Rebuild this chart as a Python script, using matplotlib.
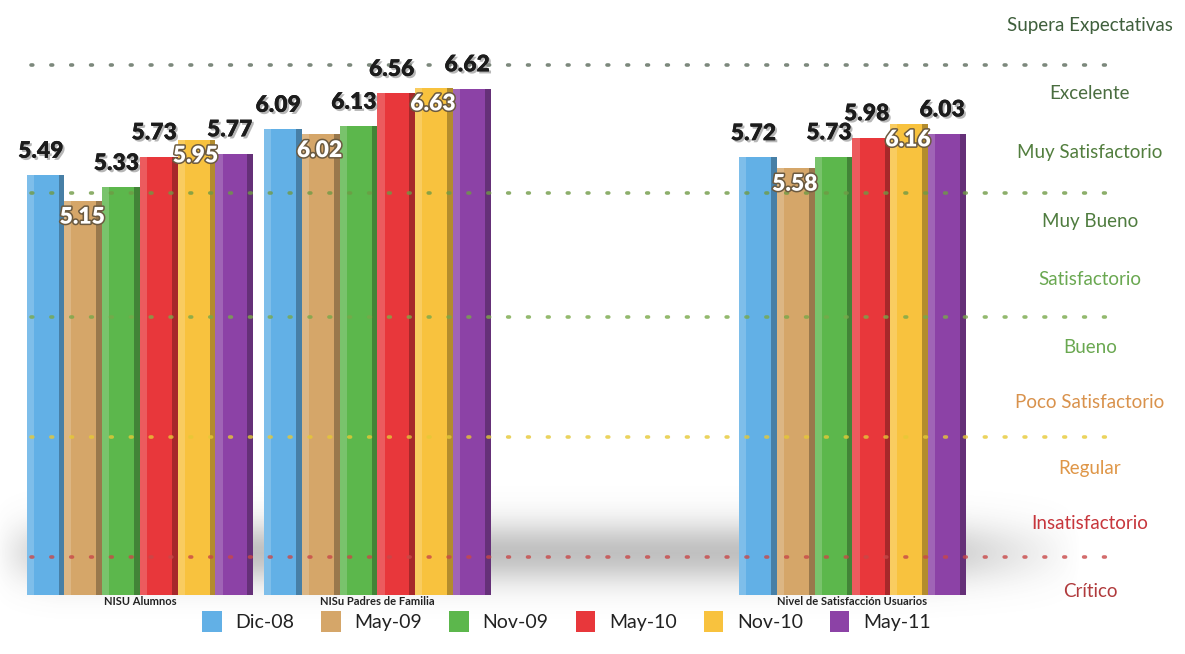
import numpy as np
import matplotlib
matplotlib.use("Agg")
import matplotlib.pyplot as plt
from matplotlib import patheffects as pe
from matplotlib.colors import to_rgb

# ---------------- data ----------------
categories = ["NISU Alumnos", "NISu Padres de Familia", "Nivel de Satisfacción Usuarios"]
series = ["Dic-08", "May-09", "Nov-09", "May-10", "Nov-10", "May-11"]
values = {
    "Dic-08": [5.49, 6.09, 5.72],
    "May-09": [5.15, 6.02, 5.58],
    "Nov-09": [5.33, 6.13, 5.73],
    "May-10": [5.73, 6.56, 5.98],
    "Nov-10": [5.95, 6.63, 6.16],
    "May-11": [5.77, 6.62, 6.03],
}
colors = ["#62b0e6", "#d5a669", "#5cb74c", "#e8373b", "#f8c23e", "#8c42a6"]

level_labels = ["Supera Expectativas", "Excelente", "Muy Satisfactorio", "Muy Bueno",
                "Satisfactorio", "Bueno", "Poco Satisfactorio", "Regular",
                "Insatisfactorio", "Crítico"]
level_label_y = [7.44, 6.56, 5.79, 4.88, 4.12, 3.23, 2.52, 1.66, 0.93, 0.04]
level_label_colors = ["#3f5f3c", "#4a6d40", "#527e3e", "#4f7c3f", "#6aa851",
                      "#6aa851", "#d9924c", "#df9647", "#c7363c", "#b03a3c"]
level_lines = [6.93, 5.25, 3.63, 2.07, 0.50]
level_line_colors = ["#5b6b5b", "#6f9a45", "#78a84a", "#e6c936", "#c84848"]

# ---------------- layout ----------------
group_pos = np.array([0.0, 1.0, 3.0])
bar_w = 0.159

fig = plt.figure(figsize=(11.85, 6.54), dpi=100)
ax = fig.add_axes([0, 0, 1, 1])
ax.set_xlim(-0.589, 4.4)
ax.set_ylim(-0.771, 7.778)
ax.axis("off")

# soft floor shadow behind bars
H, W = 200, 500
yy, xx = np.mgrid[0:H, 0:W]
gy = np.exp(-((yy - 95) / 42.0) ** 2)
gx = np.clip(np.minimum(xx / 30.0, (W - xx) / 80.0), 0, 1)
alpha = 0.42 * gy * gx
img = np.zeros((H, W, 4))
img[..., :3] = 0.42
img[..., 3] = alpha
ax.imshow(img, extent=(-0.62, 3.95, -0.45, 1.45), aspect="auto", zorder=0,
          interpolation="bilinear")

# dotted level lines (drawn over the bars, as in the original)
for yv, c in zip(level_lines, level_line_colors):
    ax.plot([-0.46, 4.14], [yv, yv], linestyle=(0, (0.5, 5.0)), color=c,
            linewidth=2.6, dash_capstyle="round", alpha=0.8, zorder=6)

# level labels
for lab, yv, c in zip(level_labels, level_label_y, level_label_colors):
    ax.text(4.0, yv, lab, ha="center", va="center", fontsize=13.5,
            family=["Lato", "DejaVu Sans"], color=c, zorder=5)

def darker(c, f):
    r, g, b = to_rgb(c)
    return (r * f, g * f, b * f)

handles = []
for i, (s, col) in enumerate(zip(series, colors)):
    xs = group_pos + (i - 2.5) * bar_w
    vals = values[s]
    h = ax.bar(xs, vals, width=bar_w, color=col, edgecolor="none", zorder=3 + i * 0.01,
               label=s)
    handles.append(h)
    # side shading (3D look)
    ax.bar(xs + bar_w * 0.5 - 0.012, vals, width=0.024, color=darker(col, 0.72),
           edgecolor="none", zorder=3 + i * 0.01)
    # highlight on left
    ax.bar(xs - bar_w * 0.5 + 0.015, vals, width=0.03, color="white", alpha=0.18,
           edgecolor="none", zorder=3 + i * 0.01)
    for x, v in zip(xs, vals):
        if i in (1, 4):
            ax.text(x - 0.005, v - 0.21, f"{v:.2f}", ha="center", va="center",
                    fontsize=16.5, fontweight="heavy", family=["Lato", "DejaVu Sans"],
                    color="white", zorder=10,
                    path_effects=[pe.Stroke(linewidth=2.2, foreground="#6b5a40"),
                                  pe.Normal()])
        else:
            ax.text(x - 0.02, v + 0.31, f"{v:.2f}", ha="center", va="center",
                    fontsize=16.5, fontweight="heavy", family=["Lato", "DejaVu Sans"],
                    color="#1c1c1c", zorder=10,
                    path_effects=[pe.withSimplePatchShadow(offset=(1.5, -1.5),
                                                           shadow_rgbFace="#888888",
                                                           alpha=0.6),
                                  pe.Normal()])

# category labels
for gp, cat in zip(group_pos, categories):
    ax.text(gp, -0.09, cat, ha="center", va="center", fontsize=8,
            family=["Lato", "DejaVu Sans"], fontweight="bold", color="#222222", zorder=10)

leg = ax.legend(handles=handles, labels=series, ncol=6, frameon=False,
                loc="center", bbox_to_anchor=(0.478, 0.05),
                handlelength=1.0, handleheight=1.3,
                handletextpad=0.7, columnspacing=1.4,
                prop={"family": ["Lato", "DejaVu Sans"], "size": 14})
for t in leg.get_texts():
    t.set_color("#222222")

fig.savefig("out.png", dpi=100)
